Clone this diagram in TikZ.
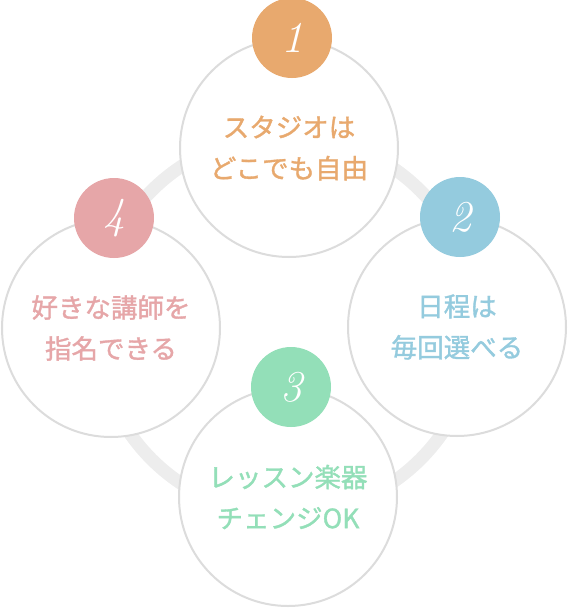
\documentclass[tikz,border=0pt]{standalone}
\usepackage{fontspec}
\newfontfamily\jp[FakeBold=1.3]{Noto Sans CJK JP}
\usetikzlibrary{positioning}
\definecolor{ringgray}{HTML}{EDEDED}
\definecolor{edgegray}{HTML}{DCDCDC}
\definecolor{col1}{HTML}{E8A96E}
\definecolor{col2}{HTML}{94CBDE}
\definecolor{col3}{HTML}{93DFB8}
\definecolor{col4}{HTML}{E6A6A8}

\begin{document}
\begin{tikzpicture}[
    x = 1pt, y = -1pt, % pixel units, y downwards
    line width = 2pt % line style
    ]

    \tikzset{stepcircle/.style={
    circle,
    inner sep = 0pt,
    draw = edgegray,
    fill = white,
    minimum size = 218pt,
    align = center,
    font = \jp\fontsize{26.5}{41}\selectfont
    }}
    \tikzset{badge/.style={
    circle,
    inner sep = 0pt,
    minimum size = 80pt,
    text = white,
    font = \itshape\fontsize{44}{44}\selectfont
    }}
    \useasboundingbox (0,0) rectangle (568,608);

    % background ring
    \coordinate (mid) at (286,325);
    \draw[ringgray, line width = 13pt] (mid) circle[radius = 190pt];

    \node[stepcircle, text = col1] (c1) at (289,148) {スタジオは\\どこでも自由};
    \node[stepcircle, text = col2] (c2) at (457,327) {日程は\\毎回選べる};
    \node[stepcircle, text = col3] (c3) at (288,497) {レッスン楽器\\チェンジOK};
    \node[stepcircle, text = col4] (c4) at (111,328) {好きな講師を\\指名できる};

    \node[badge, fill = col1] (b1) at ([xshift = 3pt]c1.north) {1};
    \node[badge, fill = col2] (b2) at ([xshift = 3pt]c2.north) {2};
    \node[badge, fill = col3] (b3) at ([xshift = 3pt]c3.north) {3};
    \node[badge, fill = col4] (b4) at ([xshift = 3pt]c4.north) {4};
\end{tikzpicture}
\end{document}
